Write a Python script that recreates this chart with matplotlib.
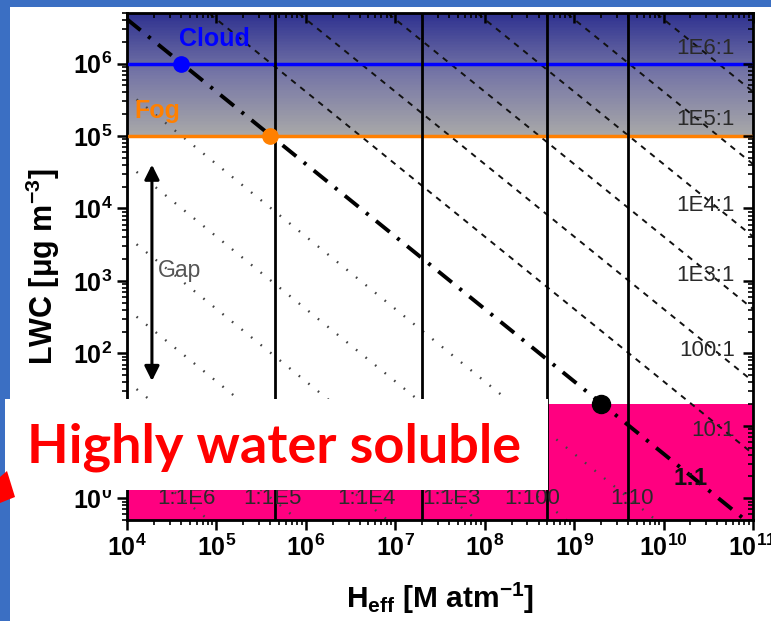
import numpy as np
import matplotlib
matplotlib.use('Agg')
import matplotlib.pyplot as plt
from matplotlib.patches import Rectangle, Polygon
from matplotlib.colors import LinearSegmentedColormap
from matplotlib.ticker import LogLocator, FuncFormatter, NullFormatter

plt.rcParams['font.family'] = ['Liberation Sans', 'DejaVu Sans']
plt.rcParams['mathtext.fontset'] = 'custom'
plt.rcParams['mathtext.rm'] = 'Liberation Sans'
plt.rcParams['mathtext.bf'] = 'Liberation Sans:bold'
plt.rcParams['mathtext.it'] = 'Liberation Sans:italic'
plt.rcParams['mathtext.default'] = 'bf'

# axis ranges
h_lim = [1e4, 1e11]
lwc_lim = [0.5, 5e6]

# H_eff * LWC for 1:1 aqueous/gas partitioning
k_one = 4.1e10
aq_exps = [1, 2, 3, 4, 5, 6]          # 10:1 ... 1E6:1 (dashed)
gas_exps = [1, 2, 3, 4, 5, 6]         # 1:10 ... 1:1E6 (dotted)

vert_h = [4.5e5, 2e7, 5e8, 4e9]

cloud_lwc = 1e6
fog_lwc = 1e5
soluble_lwc = 20

points_h = [4e4, 4e5, 2e9]
points_lwc = [1e6, 1e5, 20]
points_col = ['#0000ff', '#ff8000', 'black']
points_size = [11, 11, 13]

right_labels = ['1E6:1', '1E5:1', '1E4:1', '1E3:1', '100:1', '10:1']
right_lwc = [1.6e6, 1.7e5, 1.1e4, 1.2e3, 110, 8.5]
bottom_labels = ['1:1E6', '1:1E5', '1:1E4', '1:1E3', '1:100', '1:10']
bottom_h = [4.6e4, 4.2e5, 4.7e6, 4.3e7, 3.4e8, 4.4e9]

W, H = 771, 621


def fx(x):
    return x / W


def fy(y):
    return 1 - y / H


fig = plt.figure(figsize=(W / 100, H / 100), dpi=100)
fig.patch.set_facecolor('#3b6fc3')
fig.add_artist(Rectangle((fx(10), 0), 1 - fx(10), fy(7), transform=fig.transFigure,
                         fc='white', ec='none', zorder=-1))

ax = fig.add_axes([fx(127), fy(520), fx(753 - 127), (520 - 13) / H])
ax.set_xscale('log')
ax.set_yscale('log')
ax.set_xlim(h_lim)
ax.set_ylim(lwc_lim)

# shaded fog/cloud band
edges = np.logspace(np.log10(fog_lwc), np.log10(lwc_lim[1]), 81)
cmap = LinearSegmentedColormap.from_list('fogcloud', ['#a8a8a8', '#7676a6', '#2f3290'])
ax.pcolormesh(h_lim, edges, np.arange(80).reshape(-1, 1), cmap=cmap, shading='flat', zorder=0)
ax.axhspan(lwc_lim[0], soluble_lwc, color='#ff0080', lw=0, zorder=0)

ax.axhline(cloud_lwc, color='#0000ff', lw=2.5, zorder=3)
ax.axhline(fog_lwc, color='#ff8000', lw=2.5, zorder=3)

hh = np.array(h_lim)
for e in aq_exps:
    ax.plot(hh, k_one * 10.0 ** e / hh, color='#111111', lw=1.4,
            linestyle=(0, (3, 3)), zorder=2)
for e in gas_exps:
    ax.plot(hh, k_one * 10.0 ** -e / hh, color='#444444', lw=1.7,
            linestyle=(0, (0.7, 4.5)), zorder=2)
ax.plot(hh, k_one / hh, color='black', lw=2.8,
        linestyle=(0, (4.5, 2.5, 0.8, 2.5)), zorder=4)

for v in vert_h:
    ax.axvline(v, color='black', lw=2, zorder=4)

for x, y, c, s in zip(points_h, points_lwc, points_col, points_size):
    ax.plot(x, y, 'o', color=c, ms=s, zorder=5)

for lab, y in zip(right_labels, right_lwc):
    ax.text(6.3e10, y, lab, ha='right', va='center', fontsize=16, color='#2a2a2a', zorder=6)
for lab, x in zip(bottom_labels, bottom_h):
    ax.text(x, 1.0, lab, ha='center', va='center', fontsize=16, color='#2a2a2a', zorder=6)
ax.text(2e10, 1.9, '1:1', ha='center', va='center', fontsize=17, fontweight='bold',
        color='#111111', zorder=6)

ax.text(9.5e4, 2.2e6, 'Cloud', ha='center', va='center', fontsize=18, fontweight='bold',
        color='#0000ff', zorder=6)
ax.text(1.2e4, 2.2e5, 'Fog', ha='left', va='center', fontsize=18, fontweight='bold',
        color='#ff8000', zorder=6)

ax.annotate('', xy=(1.9e4, 38), xytext=(1.9e4, 4.4e4),
            arrowprops=dict(arrowstyle='<|-|>', color='black', lw=2.2, mutation_scale=22), zorder=6)
ax.text(3.9e4, 1400, 'Gap', ha='center', va='center', fontsize=16.5, color='#555555', zorder=6)

# ticks
fmt = FuncFormatter(lambda v, p: r'$10^{%d}$' % round(np.log10(v)))
for axis in (ax.xaxis, ax.yaxis):
    axis.set_major_locator(LogLocator(base=10, numticks=20))
    axis.set_minor_locator(LogLocator(base=10, subs=np.arange(2, 10), numticks=20))
    axis.set_major_formatter(fmt)
    axis.set_minor_formatter(NullFormatter())
ax.tick_params(which='major', direction='out', length=7, width=1.8, labelsize=18)
ax.tick_params(which='minor', direction='out', length=3.5, width=1.2)
for sp in ax.spines.values():
    sp.set_linewidth(2)

axt = ax.twiny()
axt.set_xscale('log')
axt.set_xlim(h_lim)
axr = ax.twinx()
axr.set_yscale('log')
axr.set_ylim(lwc_lim)
for a in (axt, axr):
    a.tick_params(which='major', direction='in', length=7, width=1.8)
    a.tick_params(which='minor', direction='in', length=3.5, width=1.2)
axt.xaxis.set_major_locator(LogLocator(base=10, numticks=20))
axt.xaxis.set_minor_locator(LogLocator(base=10, subs=np.arange(2, 10), numticks=20))
axt.xaxis.set_major_formatter(NullFormatter())
axt.xaxis.set_minor_formatter(NullFormatter())
axr.yaxis.set_major_locator(LogLocator(base=10, numticks=20))
axr.yaxis.set_minor_locator(LogLocator(base=10, subs=np.arange(2, 10), numticks=20))
axr.yaxis.set_major_formatter(NullFormatter())
axr.yaxis.set_minor_formatter(NullFormatter())

ax.set_xlabel(r'H$_{\mathbf{eff}}$ [M atm$^{\mathbf{-1}}$]', fontsize=21.5, fontweight='bold', labelpad=14)
ax.set_ylabel(r'LWC [$\mathbf{\mu}$g m$^{\mathbf{-3}}$]', fontsize=22, fontweight='bold', labelpad=8)

# slide overlay
fig.add_artist(Rectangle((fx(5), fy(490)), fx(548 - 5), (490 - 399) / H,
                         transform=fig.transFigure, fc='white', ec='none', zorder=10))
fig.text(fx(27), fy(462), 'Highly water soluble', color='#ff0000', fontsize=39,
         fontweight='bold', family=['Lato', 'DejaVu Sans'], va='baseline', zorder=11)
fig.add_artist(Polygon([(fx(0), fy(477)), (fx(7), fy(471)), (fx(15), fy(497)), (fx(0), fy(503))],
                       closed=True, transform=fig.transFigure, fc='#ff0000', ec='none', zorder=11))

fig.savefig('out.png', dpi=100)
